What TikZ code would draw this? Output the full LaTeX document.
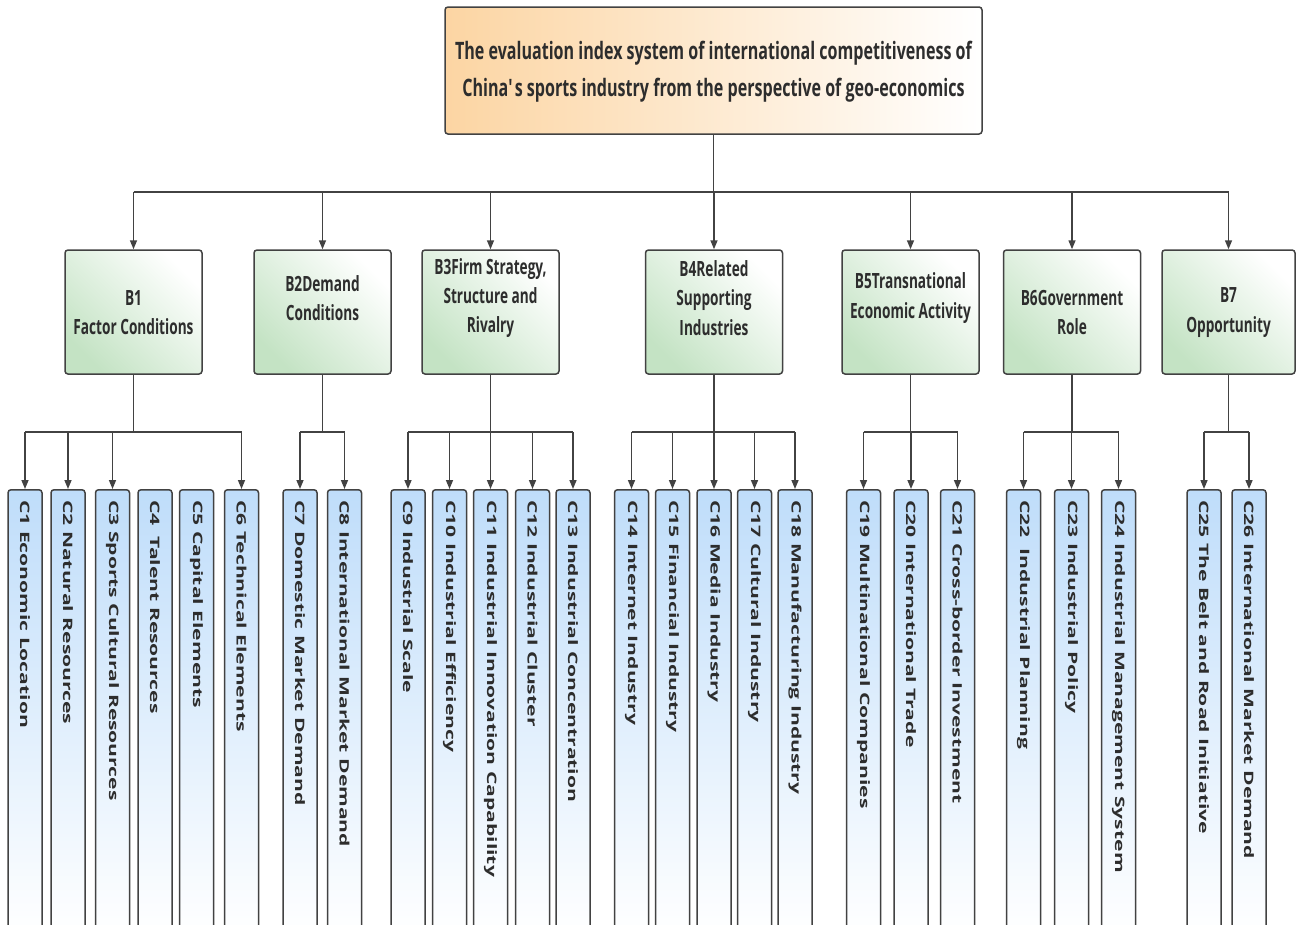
\documentclass[tikz,border=0pt]{standalone}
\usepackage{fontspec}
\usetikzlibrary{arrows.meta,calc}

% Narrow faces for the horizontal headings, wide face for the rotated leaf labels
\newfontfamily\rootfont{Open Sans}[FakeStretch=0.67]
\newfontfamily\narrowfont{Open Sans}[FakeStretch=0.65]
\newfontfamily\widefont{Open Sans}[FakeStretch=1.62]

\definecolor{edge}{HTML}{424242}
\definecolor{ink}{HTML}{2D2D2D}
\definecolor{peach}{HTML}{FCD5A3}
\definecolor{mint}{HTML}{C4E3C4}
\definecolor{sky}{HTML}{BFDDFA}

\begin{document}
\begin{tikzpicture}[x=1pt,y=-1pt,
  box/.style={draw=edge, line width=1.5pt, rounded corners=3pt, inner sep=0pt},
  topbox/.style={box, minimum width=537pt, minimum height=127pt,
    left color=peach, right color=white},
  roottext/.style={align=center, text=ink, inner sep=0pt,
    font=\rootfont\bfseries\fontsize{24}{37}\selectfont},
  catbox/.style={box, minimum width=137pt, minimum height=124pt,
    top color=white, bottom color=mint, shading angle=-45},
  cattext/.style={align=center, text=ink, inner sep=0pt,
    font=\narrowfont\bfseries\fontsize{21}{29.3}\selectfont},
  leafbox/.style={box, anchor=north, minimum width=34pt, minimum height=445pt,
    top color=sky, bottom color=white},
  leaftext/.style={rotate=-90, anchor=west, inner sep=0pt, text=ink,
    font=\widefont\bfseries\fontsize{13}{15}\selectfont},
  wire/.style={draw=edge, line width=1.5pt},
  arr/.style={wire, -{Triangle[length=9pt,width=7pt]}}
]
\clip (0,0) rectangle (1300,924);
\fill[white] (0,0) rectangle (1300,924);

% root
\node[topbox] (root) at (713.5,70.5) {};
\node[roottext] (rootlabel) at ([yshift=-1.5pt]root.center)
  {The evaluation index system of international competitiveness of\\
   China\textquotesingle s sports industry from the perspective of geo-economics};

% second level
\node[catbox] (b1) at (133.5,312) {};
\node[catbox] (b2) at (322.5,312) {};
\node[catbox] (b3) at (490.5,312) {};
\node[catbox] (b4) at (714,312) {};
\node[catbox] (b5) at (910.5,312) {};
\node[catbox] (b6) at (1072,312) {};
\node[catbox, minimum width=133pt] (b7) at (1228.5,312) {};

\node[cattext] (t1) at ([yshift=-0.5pt]b1.center) {B1\\Factor Conditions};
\node[cattext] (t2) at ([yshift=14pt]b2.center) {B2Demand\\Conditions};
\node[cattext] (t3) at ([yshift=14pt]b3.center) {B3Firm Strategy,\\Structure and\\Rivalry};
\node[cattext] (t4) at ([yshift=14pt]b4.center) {B4Related\\Supporting\\Industries};
\node[cattext] (t5) at ([yshift=14pt]b5.center) {B5Transnational\\Economic Activity};
\node[cattext] (t6) at ([yshift=-0.5pt]b6.center) {B6Government\\Role};
\node[cattext] (t7) at ([yshift=-0.5pt]b7.center) {B7\\Opportunity};

% third level: centre x / label
\foreach \i/\cx/\lab in {
  1/25/{C1 Economic Location},
  2/68/{C2 Natural Resources},
  3/112.5/{C3 Sports Cultural Resources},
  4/155/{C4~ Talent Resources},
  5/196.5/{C5 Capital Elements},
  6/241.5/{C6 Technical Elements},
  7/300/{C7 Domestic Market Demand},
  8/344.5/{C8 International Market Demand},
  9/408/{C9 Industrial Scale},
  10/449.5/{C10 Industrial Efficiency},
  11/490.5/{C11 Industrial Innovation Capability},
  12/532.5/{C12 Industrial Cluster},
  13/573/{C13 Industrial Concentration},
  14/631.5/{C14 Internet Industry},
  15/672.5/{C15 Financial Industry},
  16/714/{C16 Media Industry},
  17/754.5/{C17 Cultural Industry},
  18/795/{C18 Manufacturing Industry},
  19/863.5/{C19 Multinational Companies},
  20/911/{C20 International Trade},
  21/957.5/{C21 Cross-border Investment},
  22/1023.5/{C22~ Industrial Planning},
  23/1071.5/{C23 Industrial Policy},
  24/1118.5/{C24 Industrial Management System},
  25/1204/{C25 The Belt and Road Initiative},
  26/1249/{C26 International Market Demand}}
{
  \node[leafbox] (c\i) at (\cx,489) {};
  \node[leaftext] (l\i) at ([yshift=-11pt]c\i.north) {\lab};
}

% bus heights
\coordinate (topbus) at (0,192);
\coordinate (lowbus) at (0,432);

% root to second level
\draw[wire] (root.south) -- (root.south |- topbus);
\draw[wire] (b1.north |- topbus) -- (b7.north |- topbus);
\foreach \b in {1,...,7}
  \draw[arr] (b\b.north |- topbus) -- (b\b.north);

% second level to third level
\foreach \b/\first/\last/\targets in {
  1/1/6/{1,2,3,6},
  2/7/8/{7,8},
  3/9/13/{9,10,11,12,13},
  4/14/18/{14,15,16,17,18},
  5/19/21/{19,20,21},
  6/22/24/{22,23,24},
  7/25/26/{25,26}}
{
  \draw[wire] (b\b.south) -- (b\b.south |- lowbus);
  \draw[wire] (c\first.north |- lowbus) -- (c\last.north |- lowbus);
  \foreach \c in \targets
    \draw[arr] (c\c.north |- lowbus) -- (c\c.north);
}
\end{tikzpicture}
\end{document}
